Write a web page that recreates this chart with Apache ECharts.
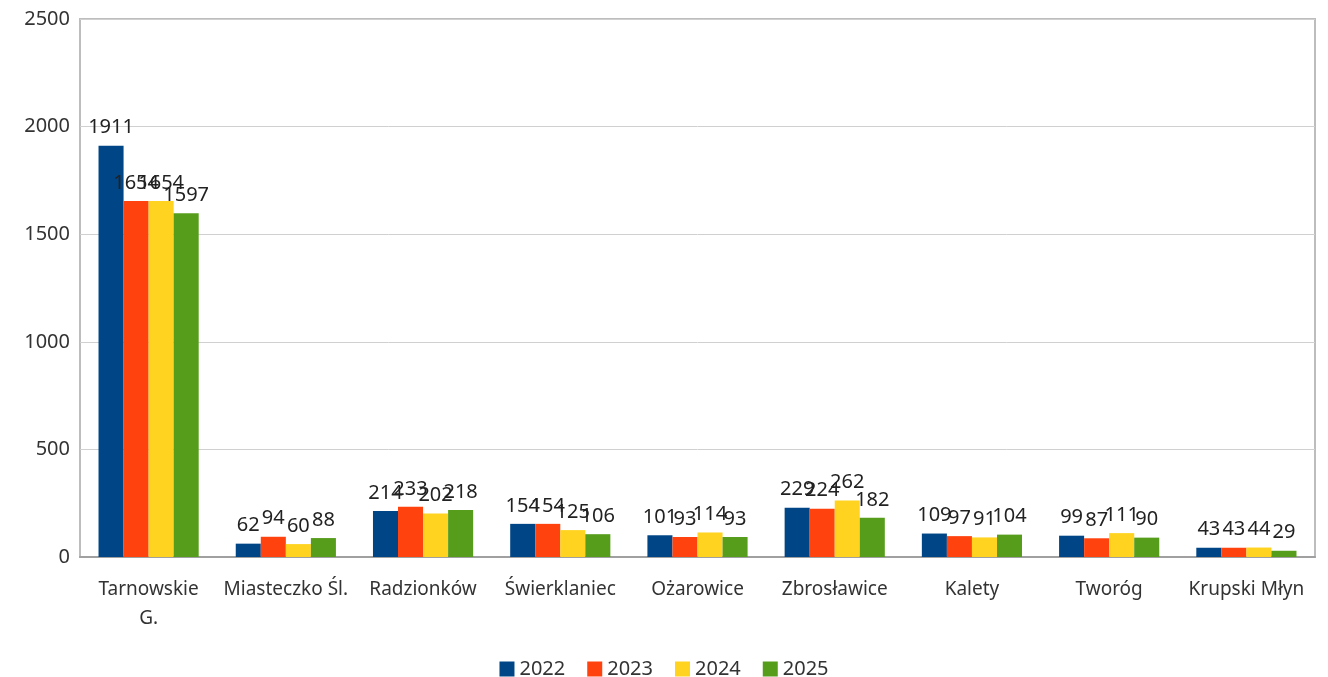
<!DOCTYPE html>
<html lang="pl">
<head>
    <meta charset="UTF-8">
    <title>Gminy</title>
    <style>
        html, body { margin: 0; padding: 0; background: #fff; }
        #chart { width: 1328px; height: 677px; }
    </style>
    <script src="https://cdn.jsdelivr.net/npm/echarts@6/dist/echarts.min.js"></script>
</head>
<body>
<div id="chart"></div>
<script>
    var categories = ['Tarnowskie\nG.', 'Miasteczko Śl.', 'Radzionków', 'Świerklaniec', 'Ożarowice',
        'Zbrosławice', 'Kalety', 'Tworóg', 'Krupski Młyn'];
    var years = ['2022', '2023', '2024', '2025'];
    var v2022 = [1911, 62, 214, 154, 101, 229, 109, 99, 43];
    var v2023 = [1654, 94, 233, 154, 93, 224, 97, 87, 43];
    var v2024 = [1654, 60, 202, 125, 114, 262, 91, 111, 44];
    var v2025 = [1597, 88, 218, 106, 93, 182, 104, 90, 29];
    var colors = ['#004586', '#ff420e', '#ffd320', '#579d1c'];

    var font = 'Noto Sans';
    var chart = echarts.init(document.getElementById('chart'));

    function bar(name, data) {
        return {
            name: name,
            type: 'bar',
            data: data,
            barGap: '0%',
            barCategoryGap: '27%',
            label: {
                show: true,
                position: 'top',
                distance: 8,
                color: '#222',
                fontFamily: font,
                fontSize: 20
            }
        };
    }

    var option = {
        color: colors,
        animation: false,
        grid: {
            left: 80, right: 13, top: 19, bottom: 120,
            show: true, borderColor: '#bdbdbd', borderWidth: 2
        },
        legend: {
            top: 654,
            left: 'center',
            icon: 'rect',
            itemWidth: 15,
            itemHeight: 15,
            itemGap: 22,
            textStyle: { fontFamily: font, fontSize: 20, color: '#333' }
        },
        xAxis: {
            type: 'category',
            data: categories,
            axisTick: { show: false },
            axisLine: { lineStyle: { color: '#a0a0a0', width: 2 } },
            axisLabel: {
                interval: 0, margin: 18, lineHeight: 29,
                fontFamily: font, fontSize: 19, color: '#333'
            }
        },
        yAxis: {
            type: 'value',
            min: 0, max: 2500, interval: 500,
            axisLine: { show: false },
            axisTick: { show: false },
            splitLine: { lineStyle: { color: '#d0d0d0', width: 1 } },
            axisLabel: {
                margin: 10, fontFamily: font, fontSize: 20, color: '#333',
                formatter: function (v) { return String(v); }
            }
        },
        series: [
            bar(years[0], v2022),
            bar(years[1], v2023),
            bar(years[2], v2024),
            bar(years[3], v2025)
        ]
    };
    chart.setOption(option);
</script>
</body>
</html>
